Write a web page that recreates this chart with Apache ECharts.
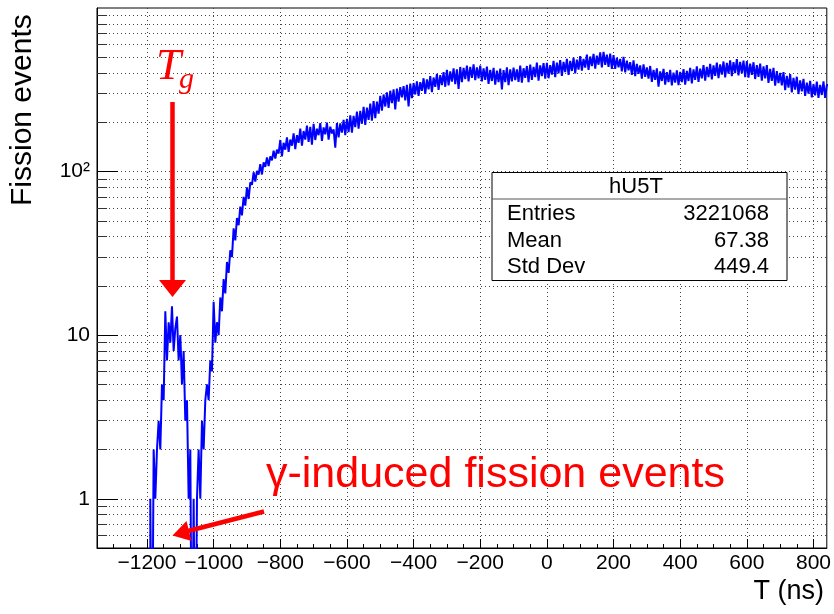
<!DOCTYPE html>
<html lang="en">
<head>
  <meta charset="UTF-8">
  <title>hU5T</title>
  <style>
    html, body { margin: 0; padding: 0; background: #fff; }
    #chart { width: 834px; height: 614px; }
  </style>
</head>
<body>
  <div id="chart"></div>

  <script src="https://cdn.jsdelivr.net/npm/echarts@6/dist/echarts.min.js"></script>
  <script>
    // hU5T histogram, 5 ns bins starting at binStart
    var binStart = -1200;
    var binWidth = 5;
    var counts = [
      0,0,1,0,2,1,2,3,2,5,4,14,7,12,9,15,8,11,13,7,
      10,5,8,3,4,1,2,0,1,0,1,2,1,3,2,4,5,4,7,6,
      16,9,12,10,17,14,22,18,28,24,33,30,45,38,52,47,61,54,70,62,
      80,68,86,83,99,87,101,96,111,96,114,107,122,108,124,117,134,120,136,129,
      156,124,150,136,162,132,157,144,171,137,167,150,183,144,177,157,191,152,188,146,
      196,156,183,167,198,154,186,169,199,157,188,171,181,140,198,162,197,173,207,167,
      210,174,221,173,219,187,233,183,235,196,249,193,246,207,260,205,270,212,268,226,
      290,236,296,250,305,245,312,262,318,240,322,268,328,284,333,272,339,250,345,281,
      348,296,356,290,352,312,372,298,366,318,383,306,376,330,396,316,389,338,405,330,
      418,336,410,355,427,342,422,320,436,352,431,368,444,356,437,374,452,362,434,372,
      445,356,428,364,438,344,418,358,430,340,414,352,426,318,417,352,433,338,422,356,
      432,362,422,354,444,350,428,374,442,352,451,364,436,378,463,360,446,384,460,370,
      462,372,447,392,475,378,463,398,480,384,468,406,488,390,475,412,498,398,484,420,
      508,414,488,432,518,418,505,442,524,426,511,450,535,434,540,449,518,436,527,425,
      515,424,497,434,488,410,502,404,476,416,467,390,479,383,455,396,446,370,452,380,
      433,370,442,354,419,364,428,330,410,358,424,340,406,352,418,336,402,350,416,338,
      407,352,423,340,413,358,430,346,421,364,440,353,426,372,447,360,436,378,456,366,
      446,385,464,372,452,392,471,377,462,397,479,383,467,400,487,387,468,398,477,378,
      474,375,457,390,466,368,447,379,457,360,440,372,448,348,425,358,430,335,411,347,
      401,337,406,315,385,326,394,305,374,317,380,298,361,309,369,290,350,300,359,284,
      343,292,355,282,339,294,356,282,338
    ];

    var xLabels = [-1200, -1000, -800, -600, -400, -200, 0, 200, 400, 600, 800];
    var xMinor = [-1350, -1300, -1250, -1200, -1150, -1100, -1050, -1000, -950, -900, -850, -800,
      -750, -700, -650, -600, -550, -500, -450, -400, -350, -300, -250, -200, -150, -100, -50,
      0, 50, 100, 150, 200, 250, 300, 350, 400, 450, 500, 550, 600, 650, 700, 750, 800];
    var yLabels = [1, 10, 100];
    var yMinor = [0.6, 0.7, 0.8, 0.9, 2, 3, 4, 5, 6, 7, 8, 9,
      20, 30, 40, 50, 60, 70, 80, 90, 200, 300, 400, 500, 600, 700, 800, 900];

    var statsTitle = 'hU5T';
    var statsNames = ['Entries', 'Mean', 'Std Dev'];
    var statsValues = ['3221068', '67.38', '449.4'];

    // empty bins go below the log axis like ROOT does
    var histData = counts.map(function (c, i) {
      return [binStart + i * binWidth, c > 0 ? c : 0.05];
    });
    histData.push([binStart + counts.length * binWidth, counts[counts.length - 1]]);

    var font = '"Liberation Sans", Arial, sans-serif';
    var gridLine = { show: true, lineStyle: { color: '#444', type: [1, 3], width: 1 } };

    var chart = echarts.init(document.getElementById('chart'));

    var statsGraphics = [
      { type: 'rect', z: 20, shape: { x: 492, y: 172.5, width: 295, height: 108 },
        style: { fill: '#fff', stroke: '#000', lineWidth: 1 } },
      { type: 'line', z: 21, shape: { x1: 492, y1: 199, x2: 787, y2: 199 },
        style: { stroke: '#555', lineWidth: 1 } },
      { type: 'text', z: 21, x: 636, y: 187,
        style: { text: statsTitle, font: '22px ' + font, fill: '#000', align: 'center', verticalAlign: 'middle' } }
    ];
    statsNames.forEach(function (name, i) {
      var y = 214 + i * 26.5;
      statsGraphics.push({ type: 'text', z: 21, x: 507, y: y,
        style: { text: name, font: '22px ' + font, fill: '#000', align: 'left', verticalAlign: 'middle' } });
      statsGraphics.push({ type: 'text', z: 21, x: 769, y: y,
        style: { text: statsValues[i], font: '22px ' + font, fill: '#000', align: 'right', verticalAlign: 'middle' } });
    });

    var annotations = [
      // axis titles
      { type: 'text', z: 20, x: 23, y: 206, rotation: Math.PI / 2,
        style: { text: 'Fission events', font: '30px ' + font, fill: '#000', align: 'left', verticalAlign: 'middle' } },
      { type: 'text', z: 20, x: 824, y: 592,
        style: { text: 'T (ns)', font: '27px ' + font, fill: '#000', align: 'right', verticalAlign: 'middle' } },
      // T_g label and arrow
      { type: 'text', z: 20, x: 156, y: 67,
        style: { text: 'T', font: 'italic 45px "Liberation Serif", serif', fill: '#ff0000', align: 'left', verticalAlign: 'middle' } },
      { type: 'text', z: 20, x: 179, y: 80,
        style: { text: 'g', font: 'italic 30px "Liberation Serif", serif', fill: '#ff0000', align: 'left', verticalAlign: 'middle' } },
      { type: 'line', z: 20, shape: { x1: 172.5, y1: 102, x2: 172.5, y2: 282 },
        style: { stroke: '#ff0000', lineWidth: 4.5 } },
      { type: 'polygon', z: 20, shape: { points: [[159, 280], [186, 280], [172.5, 297]] },
        style: { fill: '#ff0000' } },
      // gamma-induced label and arrow
      { type: 'text', z: 20, x: 266, y: 475,
        style: { text: 'γ-induced fission events', font: '43px ' + font, fill: '#ff0000', align: 'left', verticalAlign: 'middle' } },
      { type: 'line', z: 20, shape: { x1: 264, y1: 511.5, x2: 188, y2: 531 },
        style: { stroke: '#ff0000', lineWidth: 4.5 } },
      { type: 'polygon', z: 20, shape: { points: [[172.5, 535.5], [186.5, 521], [191.5, 541]] },
        style: { fill: '#ff0000' } }
    ];

    var option = {
      animation: false,
      backgroundColor: '#fff',
      grid: {
        left: 97, top: 8, right: 7, bottom: 66,
        show: true, borderColor: '#000', borderWidth: 1
      },
      xAxis: [
        {
          type: 'value', min: -1350, max: 840,
          axisLine: { show: true, onZero: false, lineStyle: { color: '#000', width: 1 } },
          axisTick: { show: true, inside: true, length: 9, customValues: xLabels, lineStyle: { color: '#000' } },
          axisLabel: {
            customValues: xLabels, margin: 5, color: '#000', fontFamily: font, fontSize: 21,
            formatter: function (v) { return v < 0 ? '\u2212' + (-v) : String(v); }
          },
          splitLine: gridLine
        },
        {
          type: 'value', min: -1350, max: 840, position: 'bottom',
          axisLine: { show: false, onZero: false },
          axisTick: { show: true, inside: true, length: 4, customValues: xMinor, lineStyle: { color: '#000' } },
          axisLabel: { show: false },
          splitLine: { show: false }
        }
      ],
      yAxis: [
        {
          type: 'log', min: 0.5, max: 1000,
          axisLine: { show: true, onZero: false, lineStyle: { color: '#000', width: 1 } },
          axisTick: { show: true, inside: true, length: 21, customValues: yLabels, lineStyle: { color: '#000' } },
          axisLabel: {
            customValues: yLabels, margin: 7, color: '#000', fontFamily: font, fontSize: 21,
            formatter: function (v) { return v === 100 ? '10\u00b2' : String(v); }
          },
          splitLine: gridLine
        },
        {
          type: 'log', min: 0.5, max: 1000, position: 'left',
          axisLine: { show: false, onZero: false },
          axisTick: { show: true, inside: true, length: 10, customValues: yMinor, lineStyle: { color: '#333' } },
          axisLabel: { show: false },
          splitLine: gridLine
        }
      ],
      series: [
        {
          type: 'line',
          xAxisIndex: 0,
          yAxisIndex: 0,
          step: 'end',
          data: histData,
          showSymbol: false,
          clip: true,
          lineStyle: { color: '#0000ff', width: 2 },
          z: 5
        }
      ],
      graphic: statsGraphics.concat(annotations)
    };

    chart.setOption(option);
  </script>
</body>
</html>
